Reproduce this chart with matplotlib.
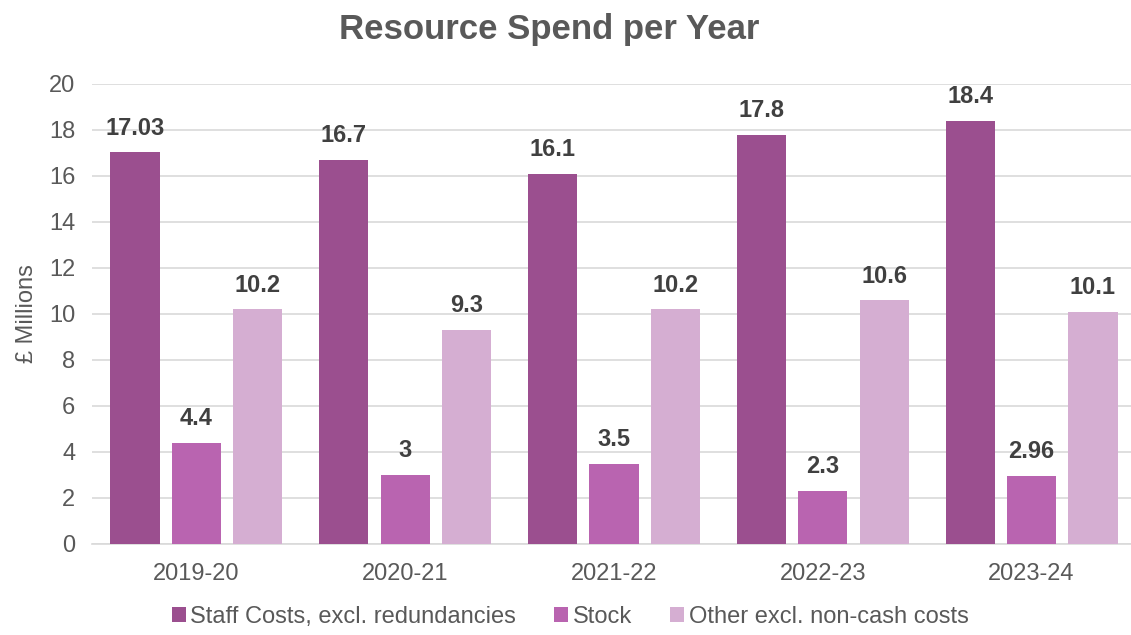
import numpy as np
import matplotlib.pyplot as plt

plt.rcParams['font.family'] = ['Liberation Sans', 'DejaVu Sans']

# === Datos ===
years = ["2019-20", "2020-21", "2021-22", "2022-23", "2023-24"]
staff = [17.03, 16.7, 16.1, 17.8, 18.4]
stock = [4.4, 3, 3.5, 2.3, 2.96]
other = [10.2, 9.3, 10.2, 10.6, 10.1]
staff_lbl = ["17.03", "16.7", "16.1", "17.8", "18.4"]
stock_lbl = ["4.4", "3", "3.5", "2.3", "2.96"]
other_lbl = ["10.2", "9.3", "10.2", "10.6", "10.1"]
series_names = ["Staff Costs, excl. redundancies", "Stock", "Other excl. non-cash costs"]
colores = ["#9B4F8F", "#B964B0", "#D5AED2"]

fig = plt.figure(figsize=(11.31, 6.35), dpi=100)
ax = fig.add_axes([92 / 1131, 91 / 635, 1044 / 1131, 460 / 635])

x = np.arange(len(years))
w = 0.235
step = 0.294
for k, (vals, lbls) in enumerate([(staff, staff_lbl), (stock, stock_lbl), (other, other_lbl)]):
    pos = x + (k - 1) * step
    ax.bar(pos, vals, width=w, color=colores[k], label=series_names[k], zorder=3)
    for p, v, t in zip(pos, vals, lbls):
        ax.text(p, v + 0.55, t, ha="center", va="bottom", fontsize=17,
                fontweight="bold", color="#404040")

ax.set_xlim(-0.5, len(years) - 0.5)
ax.set_ylim(0, 20)
ax.set_yticks(range(0, 21, 2))
ax.set_xticks(x)
ax.set_xticklabels(years)
ax.tick_params(axis="both", length=0, labelsize=17, labelcolor="#595959")
ax.tick_params(axis="y", pad=12)
ax.tick_params(axis="x", pad=14)
ax.grid(axis="y", color="#D9D9D9", lw=1.2, zorder=0)
for s in ["top", "right", "left"]:
    ax.spines[s].set_visible(False)
ax.spines["bottom"].set_color("#D9D9D9")
ax.spines["bottom"].set_linewidth(1.2)
ax.set_ylabel("£ Millions", fontsize=17, color="#595959", labelpad=8)

fig.text(549 / 1131, 1 - 30 / 635, "Resource Spend per Year", fontsize=25,
         fontweight="bold", color="#595959", ha="center", va="center")

leg = ax.legend(loc="upper center", bbox_to_anchor=(0.458, -0.135), ncol=3,
                frameon=False, fontsize=17, handlelength=0.6, handleheight=0.6,
                handletextpad=0.2, columnspacing=1.6, labelcolor="#595959",
                borderaxespad=0, borderpad=0)

plt.savefig("out.png", dpi=100)
